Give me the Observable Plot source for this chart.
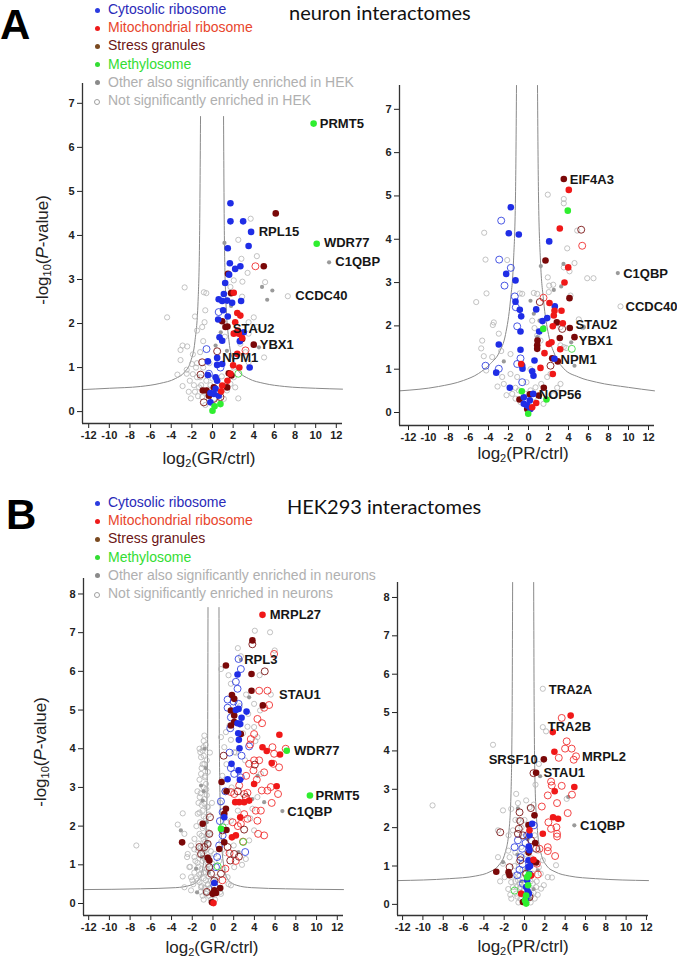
<!DOCTYPE html>
<html><head><meta charset="utf-8">
<script src="https://cdn.jsdelivr.net/npm/d3@7"></script>
<script src="https://cdn.jsdelivr.net/npm/@observablehq/plot@0.6"></script>
<style>
body{margin:0;background:#fff;}
#root{position:relative;width:677px;height:959px;overflow:hidden;font-family:"Liberation Sans",Arial,sans-serif;background:#fff;}
.abs{position:absolute;white-space:nowrap;}
.letter{font-weight:bold;font-size:42px;color:#000;line-height:1;}
.title{font-family:Lato,"Open Sans",sans-serif;font-size:20px;color:#111;line-height:1;}
.leg{font-size:14px;line-height:1;}
.bul{position:absolute;width:5px;height:5px;border-radius:50%;}
.axt{font-size:17px;color:#222;line-height:1;}
.axt sub{font-size:11px;vertical-align:-3px;line-height:0;}
</style></head><body><div id="root"></div>
<script>
// ---------- shared ----------
const xTicks = [-12,-10,-8,-6,-4,-2,0,2,4,6,8,10,12];
const yTicksA = [0,1,2,3,4,5,6,7];
const yTicksB = [0,1,2,3,4,5,6,7,8];
const legendCats = ["Cytosolic ribosome","Mitochondrial ribosome","Stress granules","Methylosome"];
const legendRestA = ["Other also significantly enriched in HEK","Not significantly enriched in HEK"];
const legendRestB = ["Other also significantly enriched in neurons","Not significantly enriched in neurons"];
const panelLetters = ["A","B"];
const panelTitles = ["neuron interactomes","HEK293 interactomes"];

// ---------- A: neuron, GR ----------
const aGR_cyto = [[1.74,4.73],[1.74,4.32],[2.97,4.32],[3.74,4.08],[3.5,3.76],[1.48,3.71],[1.68,3.37],[2.7,3.3],[2.2,3.24],[1.61,3.11],[1.23,2.92],[1.1,2.67],[0.6,2.55],[0.94,2.51],[1.42,2.52],[1.9,2.47],[2.77,2.51],[1.03,2.3],[1.48,2.16],[0.55,2.09],[0.68,1.69],[0.94,1.61],[2.65,1.6],[3.03,1.8],[-0.45,1.14],[0.45,1.22],[0.45,1.06],[0.94,1.08],[3.6,1.0],[-0.45,0.83],[0.3,0.78],[0.45,0.7],[-0.2,0.42],[0.3,0.52],[0.13,0.4],[0.6,0.36],[-0.2,0.21]];
const aGR_cytoOpen = [[0.6,2.26],[-0.58,1.42],[0.77,1.0],[-0.35,0.86]];
const aGR_mito = [[2.4,2.24],[2.7,2.18],[2.2,2.03],[2.45,1.84],[2.06,1.77],[2.55,1.77],[2.87,1.67],[2.4,1.31],[2.0,1.05],[2.6,1.0],[1.74,0.86],[0.94,0.59],[0.84,0.46],[2.06,2.7],[1.45,0.7]];
const aGR_mitoOpen = [[4.16,3.3],[3.2,1.39]];
const aGR_sg = [[6.13,4.5],[4.97,3.3],[1.5,3.13],[1.8,2.69],[0.94,2.05],[1.26,1.92],[1.45,1.93],[4.0,1.52],[2.87,1.65],[1.58,0.87],[1.84,0.82],[1.42,0.55],[-0.94,0.48],[-0.58,0.48],[-0.35,0.36],[0.13,0.55]];
const aGR_sgOpen = [[-1.0,1.12],[-1.16,0.84],[0.45,1.37],[-0.84,0.21],[0.13,0.29],[0.77,0.33]];
const aGR_meth = [[9.8,6.54],[10.1,3.81],[0,0.02],[0.77,0.17],[0.2,0.12]];
const aGR_methOpen = [[2.5,0.86]];
const aGR_other = [[11.3,3.39],[4.8,2.83],[5.8,2.75],[5.3,2.54],[4.5,1.46],[1.16,3.83],[0.8,1.8],[1.4,1.38],[1.8,2.4],[0.3,1.5],[1.1,0.6]];
const aGR_ns = [[7.3,2.62],[3.7,4.38],[2.5,3.9],[4.3,3.53],[3.4,3.15],[5.1,2.94],[2.9,2.95],[2.8,3.47],[-2.7,2.82],[-4.4,2.14],[-1.7,2.16],[-0.84,2.71],[-0.6,2.69],[-0.7,2.3],[-0.77,2.03],[-1.0,1.92],[-1.5,1.84],[-2.9,1.5],[-3.1,1.4],[-2.45,1.48],[-3.1,1.17],[-2.9,0.58],[-3.4,0.84],[-2.5,0.86],[-2.0,1.08],[-1.6,1.0],[-1.5,0.78],[-1.2,0.78],[-1.8,0.6],[-1.3,0.55],[-0.84,0.48],[-0.5,0.4],[-1.0,0.33],[-0.35,0.29],[1.4,2.52],[1.74,2.83],[2.06,2.98],[2.87,2.61],[4.0,2.14],[4.3,1.92],[5.0,1.23],[3.5,2.03],[3.5,1.77],[2.7,1.54],[2.06,1.0],[1.74,0.63],[2.2,0.55],[1.4,0.48],[0.6,0.4],[1.1,0.29],[0.45,0.21],[2.06,0.78],[3.2,1.35],[3.5,1.12],[-2.2,0.7],[-1.9,1.3],[-0.9,1.0],[-0.6,0.7],[-1.4,0.35],[-2.3,0.45],[-0.2,0.6],[0.9,0.8],[2.5,0.3],[-0.9,1.6],[1.2,1.7],[-1.2,1.35],[-1.5,1.1],[-2.5,0.95],[-1.7,0.45],[-2.1,0.3],[-0.7,0.15],[-1.1,0.6],[-0.3,1.1],[-0.4,0.5],[0.0,0.75],[-1.9,0.85]];
const aGR_curveL = [[-12.6,0.5],[-10,0.53],[-7,0.57],[-5.1,0.64],[-3.6,0.75],[-2.7,0.9],[-2.1,1.15],[-1.7,1.6],[-1.4,2.5],[-1.25,4],[-1.16,6.7]];
const aGR_curveR = [[1.07,6.7],[1.15,4],[1.3,2.5],[1.6,1.6],[2.0,1.15],[2.6,0.9],[3.5,0.75],[5,0.64],[7,0.57],[10,0.53],[12.6,0.51]];
const aGR_labels = [["PRMT5",10.4,6.54,"start"],["RPL15",4.48,4.09,"start"],["WDR77",10.8,3.83,"start"],["C1QBP",11.9,3.39,"start"],["CCDC40",8.03,2.62,"start"],["STAU2",1.97,1.89,"start"],["YBX1",4.58,1.52,"start"],["NPM1",0.94,1.21,"start"]];

// ---------- A: neuron, PR ----------
const aPR_cyto = [[-1.77,4.74],[-1.97,4.14],[-0.97,4.11],[2.07,3.95],[-2.23,3.2],[-1.3,3.05],[-1.3,2.56],[-0.87,2.37],[-0.73,2.22],[0.77,2.38],[1.4,2.11],[1.87,2.18],[2.63,2.45],[-0.8,1.87],[1.07,1.87],[-2.97,1.57],[-0.8,1.45],[-0.63,1.08],[-0.6,1.01],[-3.23,0.92],[0.6,1.2],[0.37,0.95],[0.5,0.85],[-1.87,0.57],[0.47,0.43],[-0.47,0.35],[0.13,0.28],[-0.13,0.16],[-0.47,0.2],[0.2,0.08],[2.6,1.24]];
const aPR_cytoOpen = [[-2.73,4.43],[-2.93,3.53],[-1.77,3.34],[-2.4,2.93],[-1.37,2.68],[-1.27,2.43],[-1.13,1.99],[-4.3,1.08],[-2.97,1.01],[-0.8,1.25],[-0.63,0.7],[-1.13,1.12]];
const aPR_mito = [[4.03,5.14],[3.13,4.25],[3.97,3.35],[3.6,3.0],[2.1,2.53],[2.6,2.35],[3.3,2.35],[2.53,2.24],[3.43,2.06],[2.43,1.99],[2.3,1.62],[2.03,1.58],[3.17,1.46],[1.6,1.37],[1.2,1.03],[2.43,0.89],[-0.73,1.12],[0.77,0.22],[0.37,0.12]];
const aPR_mitoOpen = [[5.37,3.85],[1.5,2.65]];
const aPR_sg = [[3.53,5.39],[1.7,3.51],[4.1,2.64],[2.83,2.08],[4.13,1.95],[3.13,1.72],[4.6,1.74],[0.9,1.66],[0.87,1.55],[0.87,1.47],[2.93,1.18],[2.37,1.25],[1.53,0.57],[1.03,0.39],[0.13,0.42],[-0.9,0.3],[-0.13,0.08]];
const aPR_sgOpen = [[5.27,4.22],[1.13,2.55],[3.37,1.93],[2.2,1.08]];
const aPR_meth = [[3.93,4.66],[-0.03,-0.03],[1.47,1.93],[-0.67,0.49],[1.8,0.3]];
const aPR_methOpen = [[4.33,1.47]];
const aPR_other = [[8.93,3.22],[3.5,3.43],[1.23,3.38],[3.27,2.91],[2.53,2.83],[0.53,2.28],[1.1,2.12],[4.27,1.62],[4.6,1.08],[-2.47,1.18],[0.2,2.58],[0.87,1.74],[1.53,1.97],[5.53,1.97]];
const aPR_ns = [[9.2,2.45],[1.93,5.03],[3.53,4.93],[3.53,4.83],[4.87,4.2],[3.87,3.79],[-4.43,4.15],[-4.3,3.53],[-2.13,3.52],[3.53,3.35],[4.1,3.26],[4.6,3.45],[5.87,3.1],[1.93,3.12],[-5.23,2.55],[-4.2,2.75],[0.53,2.76],[0.87,2.74],[2.07,2.93],[2.47,2.95],[2.03,2.78],[4.2,2.7],[-3.47,2.08],[-3.57,2.02],[-2.97,1.82],[-4.63,1.66],[-4.73,1.48],[-4.47,1.3],[-3.63,1.28],[-2.73,1.42],[-4.23,0.97],[-2.63,0.82],[-2.47,0.66],[-1.8,1.35],[-1.8,0.89],[-1.13,0.82],[-1.3,0.57],[-1.63,0.43],[-0.97,0.51],[-0.63,2.74],[-0.87,2.75],[0.37,2.12],[0.6,1.95],[0.87,1.78],[1.2,1.66],[3.2,1.55],[3.53,1.51],[3.77,1.49],[5.03,2.15],[5.43,1.97],[3.2,1.97],[2.2,0.89],[3.2,0.66],[2.87,0.57],[1.87,0.82],[1.27,0.66],[0.7,0.58],[0.2,0.51],[0.53,0.35],[-0.3,0.43],[-0.8,0.24],[-1.3,0.32],[6.5,3.1],[-3.1,0.6],[-2.2,0.4],[1.5,0.2],[2.5,0.4],[-0.2,0.7],[0.2,1.0]];
const aPR_curveL = [[-12.9,0.5],[-9,0.6],[-6.5,0.74],[-5,0.9],[-3.8,1.13],[-2.9,1.4],[-2.3,1.8],[-1.8,2.6],[-1.5,3.5],[-1.3,5],[-1.2,7.55]];
const aPR_curveR = [[0.9,7.55],[1.0,5],[1.2,3.5],[1.5,2.6],[2.0,1.8],[2.6,1.35],[3.5,1.02],[5,0.82],[6.8,0.7],[10,0.58],[12.6,0.5]];
const aPR_labels = [["EIF4A3",4.13,5.38,"start"],["C1QBP",9.47,3.2,"start"],["CCDC40",9.7,2.45,"start"],["STAU2",4.7,2.02,"start"],["YBX1",5.03,1.66,"start"],["NPM1",3.2,1.22,"start"],["NOP56",1.03,0.41,"start"]];

// ---------- B: HEK293, GR ----------
const bGR_cyto = [[2.37,5.92],[2.21,5.0],[2.47,5.03],[3.24,4.96],[2.76,4.8],[2.37,4.66],[2.63,4.64],[2.44,4.4],[2.5,4.23],[2.56,4.01],[1.79,3.61],[2.47,3.44],[2.6,3.2],[1.41,3.21],[1.09,2.23],[0.13,0.53]];
const bGR_cytoOpen = [[2.47,6.32],[2.69,6.06],[2.21,5.73],[2.37,5.55],[1.41,5.27],[1.99,5.22],[1.41,5.06],[2.47,5.16],[1.73,4.81],[1.67,4.53],[3.49,4.06],[2.76,3.82],[1.73,3.5],[2.05,3.35],[2.69,3.26],[0.77,2.64],[0.93,2.36],[0.67,2.13],[0.93,1.76],[3.11,1.33],[0.29,0.94],[0.13,0.46],[1.2,2.9],[1.6,3.9],[0.6,1.5],[0.4,1.2]];
const bGR_mito = [[4.78,7.46],[6.41,4.36],[5.67,3.63],[4.78,4.04],[5.19,3.94],[6.47,3.85],[6.15,3.03],[3.97,3.09],[3.49,2.66],[3.01,2.62],[2.53,2.62],[2.15,2.62],[2.63,2.23],[2.21,1.76],[1.83,1.71],[0.05,0.01]];
const bGR_mitoOpen = [[5.9,6.45],[4.94,5.06],[5.42,5.13],[4.46,5.5],[5.26,5.5],[4.29,4.77],[4.74,4.66],[3.97,4.38],[3.65,4.25],[3.59,4.11],[5.74,4.04],[5.9,3.87],[7.02,4.0],[4.46,3.7],[5.83,3.61],[6.38,3.52],[4.94,3.39],[3.91,3.44],[5.58,3.01],[4.23,3.2],[4.71,2.92],[5.26,2.92],[6.28,2.83],[5.67,2.6],[4.62,2.4],[4.13,2.4],[4.29,2.14],[4.36,1.8],[4.94,1.76],[3.01,2.31],[2.69,2.06],[3.33,2.19],[1.73,2.88],[2.05,2.83],[3.01,2.83],[3.33,2.86],[3.97,3.7],[3.49,3.61],[2.53,3.05],[3.2,3.3],[2.4,2.0],[1.9,2.1],[2.9,1.6],[1.6,1.3],[2.2,1.1],[1.2,0.9],[0.9,0.6]];
const bGR_sg = [[3.81,6.8],[1.25,6.15],[3.72,5.93],[3.72,5.5],[4.81,5.12],[1.83,5.39],[2.05,5.29],[1.73,4.99],[2.05,4.86],[1.73,4.6],[2.05,4.69],[2.69,4.38],[0.83,3.14],[1.31,2.9],[1.25,2.45],[1.09,2.32],[1.09,1.58],[0.61,1.41],[-2.98,1.58],[-0.99,2.06],[-0.51,1.18],[-0.35,1.11],[0.13,0.34],[-0.03,0.25],[0.29,0.27],[-0.1,0.03],[1.3,1.9],[0.7,0.4]];
const bGR_sgOpen = [[1.03,3.82],[4.04,3.59],[3.17,2.75],[3.01,1.91],[2.5,1.21],[1.67,1.11],[-0.29,2.23],[-0.35,1.8],[-0.83,1.46],[-1.31,1.46],[-0.35,0.94],[-1.15,1.28],[0.13,0.59],[-0.19,0.77],[0.77,0.77],[-0.51,1.54],[0.93,1.89],[1.41,1.46],[2.05,1.28],[3.8,6.7],[5.0,6.0],[2.4,2.9],[-0.6,0.3]];
const bGR_meth = [[9.36,2.79],[7.12,3.95],[0.77,1.93]];
const bGR_methOpen = [[0.93,1.97],[2.92,1.59],[0.45,0.96]];
const bGR_other = [[6.7,2.39],[3.49,5.33],[4.94,2.62],[-3.1,1.89],[-1.63,0.9],[-1.54,0.29],[-1.15,3.05],[-0.99,2.66],[2.47,1.33],[2.7,6.3],[3.8,2.7],[-0.8,4.0],[-0.6,1.6],[4.3,3.3],[2.6,4.6],[-0.9,2.9],[-0.6,2.1],[-1.1,1.2],[-0.4,0.8],[-0.7,3.5]];
const bGR_ns = [[5.58,5.4],[5.51,7.01],[5.96,6.54],[4.04,7.05],[2.69,6.39],[0.77,6.06],[-0.83,4.34],[-0.93,4.04],[-1.22,3.91],[-0.9,3.82],[-0.83,3.61],[-1.15,3.35],[-0.77,3.26],[-1.28,2.75],[-0.83,2.58],[-0.51,2.49],[-2.92,2.33],[-3.4,2.04],[-2.76,1.8],[-7.4,1.5],[-2.12,1.5],[-1.47,1.37],[-1.79,1.2],[-2.28,0.94],[-2.92,0.7],[-2.12,0.68],[-1.47,0.59],[-1.15,0.42],[-0.67,0.25],[-0.51,0.47],[0.38,0.68],[1.73,2.14],[2.05,3.91],[1.73,4.23],[3.33,4.57],[3.97,4.56],[4.29,4.3],[4.55,4.99],[3.97,5.16],[4.62,3.35],[4.29,2.75],[3.81,2.45],[3.97,1.89],[3.49,1.63],[3.17,1.15],[2.05,0.94],[1.41,0.68],[1.73,0.47],[0.77,0.25],[1.09,4.04],[1.25,4.43],[0.77,4.3],[1.73,5.68],[0.13,1.28],[-0.03,1.02],[-1.15,0.77],[-2.44,1.28],[-1.47,2.32],[-0.67,3.09],[-1.15,3.78],[-0.35,1.8],[-1.79,1.67],[-2.12,0.34],[-2.76,0.42],[-0.7,4.1],[-1.0,3.95],[-0.6,3.7],[-1.1,3.5],[-0.75,3.3],[-0.65,2.95],[-1.2,2.85],[-0.8,2.7],[-0.55,2.5],[-1.0,2.4],[-0.7,2.2],[-1.25,2.1],[-0.85,2.0],[-0.5,1.85],[-1.1,1.75],[-0.75,1.6],[-1.4,1.55],[-0.6,1.4],[-1.0,1.3],[-0.8,1.15],[-1.5,1.05],[-0.5,1.0],[-1.1,0.9],[-0.7,0.8],[-1.8,0.8],[-0.9,0.65],[-1.3,0.55],[-0.5,0.5],[-0.8,0.4],[-1.0,0.2],[-0.4,0.2],[-1.9,0.5],[-2.2,0.95],[-2.5,1.2],[0.9,3.3],[1.1,2.9],[0.7,2.6],[1.3,2.1],[0.8,1.6],[1.2,1.3],[0.6,1.1],[1.0,0.9],[0.4,0.6],[0.7,0.3],[1.5,0.5],[2.0,1.5],[1.8,3.0],[2.4,2.4],[2.2,3.9],[2.9,4.4],[3.1,3.7],[3.2,5.4],[1.5,5.9],[2.4,6.6],[3.4,4.9],[4.1,4.2],[4.5,5.9],[1.6,4.6],[1.3,3.6],[2.8,1.0],[3.6,2.2],[2.6,5.1],[0.2,0.1],[-0.2,0.6],[0.3,0.3],[-1.3,4.0],[-0.9,4.2],[-1.0,3.6],[-0.5,3.4],[-1.3,3.2],[-0.9,3.0],[-0.6,2.8],[-1.4,2.6],[-1.1,2.55],[-0.4,2.3],[-1.3,2.35],[-0.9,2.25],[-1.6,2.0],[-1.0,1.95],[-0.6,1.75],[-1.3,1.8],[-0.9,1.65],[-1.2,1.45],[-0.5,1.55],[-0.8,1.35],[-1.3,1.25],[-0.4,1.2],[-1.0,1.1],[-1.4,0.95],[-0.6,0.9],[-0.9,0.8],[-1.3,0.75],[-0.4,0.7],[-1.6,0.65],[-0.7,0.6],[-1.1,0.45],[-0.3,0.4],[-0.6,0.3],[-0.9,0.1],[-0.2,0.1],[-1.2,0.3],[-1.7,1.1],[-2.0,0.6],[-1.8,1.4],[-0.3,0.95],[-0.2,1.35],[-0.1,2.6],[-0.3,3.9],[-1.5,2.9]];
const bGR_curveL = [[-12.5,0.36],[-7,0.38],[-3.6,0.41],[-2.2,0.47],[-1.4,0.6],[-1.0,0.9],[-0.75,1.5],[-0.6,2.5],[-0.52,4],[-0.48,7.65]];
const bGR_curveR = [[0.58,7.65],[0.62,4],[0.7,2.5],[0.85,1.5],[1.1,0.9],[1.5,0.6],[2.3,0.47],[3.7,0.41],[7,0.38],[12.6,0.36]];
const bGR_labels = [["MRPL27",5.48,7.46,"start"],["RPL3",3.01,6.3,"start"],["STAU1",6.38,5.4,"start"],["WDR77",7.82,3.95,"start"],["PRMT5",9.9,2.79,"start"],["C1QBP",7.18,2.36,"start"]];

// ---------- B: HEK293, PR ----------
const bPR_cyto = [[0.75,2.1],[0.49,1.8],[0.42,1.51],[0.49,1.41],[0.39,1.15],[0.39,0.97],[0.49,0.8],[0.26,0.63],[0.16,0.45],[0.42,0.28],[0.16,0.15],[0.55,1.0],[0.3,0.35]];
const bPR_cytoOpen = [[0.92,2.06],[0.26,1.8],[-0.65,1.67],[-0.98,1.49],[-0.23,1.45],[-0.39,1.23],[-0.49,0.9],[-0.72,0.76],[-0.16,0.54],[-0.2,1.05],[0.1,1.6]];
const bPR_mito = [[4.54,4.92],[2.78,4.49],[2.94,3.98],[2.97,2.95],[4.9,3.06],[2.81,2.27],[3.3,2.23],[1.8,1.84],[0.49,1.93],[0.88,1.16],[0.65,0.75],[-0.33,0.28]];
const bPR_mitoOpen = [[3.66,4.86],[4.15,4.25],[3.99,4.06],[4.64,4.06],[5.07,3.86],[4.84,3.77],[3.37,3.82],[2.61,3.2],[2.68,3.1],[3.66,3.09],[2.29,2.84],[3.2,2.64],[4.67,2.86],[4.25,2.38],[1.7,2.55],[2.35,2.14],[2.61,1.97],[3.14,2.01],[3.2,1.84],[3.2,1.77],[2.29,1.49],[2.29,1.39],[3.01,1.26],[1.47,1.45],[1.21,1.06],[1.31,0.78]];
const bPR_sg = [[1.9,3.78],[1.14,3.43],[0.98,2.32],[0.39,2.07],[1.05,1.6],[0.88,1.13],[1.14,1.09],[-2.78,0.85],[-1.57,0.84],[-1.47,0.76],[-0.16,0.06],[0.4,1.35]];
const bPR_sgOpen = [[0.88,3.42],[0.62,2.51],[-0.49,2.4],[-0.42,2.17],[-0.56,1.97],[-0.65,1.84],[-0.16,1.8],[-2.39,1.88],[-1.47,0.97],[0.65,1.67],[1.14,1.45],[-0.42,1.15],[0.16,0.8],[0.49,0.19]];
const bPR_meth = [[0.16,0.02],[0.26,0.71],[0.42,0.78],[0.16,0.23],[0.35,0.5],[0.05,0.1]];
const bPR_methOpen = [[-0.98,0.36]];
const bPR_other = [[4.9,2.06],[1.54,3.34],[-0.65,2.5],[1.31,0.89],[-2.12,1.1],[0.3,1.7],[-0.3,0.6],[0.9,0.4],[4.3,2.8],[-0.4,0.3],[0.2,0.9],[0.6,0.15],[-0.7,1.3]];
const bPR_ns = [[1.8,5.62],[1.8,4.62],[-3.1,4.16],[-9.05,2.58],[-0.82,2.88],[-0.65,2.64],[-1.31,2.49],[-2.12,2.45],[1.08,3.12],[1.41,3.66],[2.12,4.51],[4.15,2.75],[-1.14,1.93],[-1.57,1.8],[-2.61,1.93],[-2.61,1.23],[-2.12,1.06],[-1.47,1.23],[-1.96,0.71],[-1.31,0.58],[-1.14,0.45],[-0.65,0.63],[-0.42,0.45],[1.14,0.45],[1.63,0.41],[2.29,0.71],[3.1,1.02],[1.8,1.15],[1.41,0.97],[0.82,0.54],[-0.82,0.28],[0.49,2.53],[0.16,2.71],[-0.3,1.5],[0.2,1.3],[-0.6,1.1],[0.7,1.2],[-0.2,0.9],[0.6,0.6],[-0.5,0.4],[0.3,0.1],[-0.1,0.35],[0.9,0.3],[-0.9,0.6],[1.0,0.15],[-0.4,0.15],[0.1,0.55],[-1.6,0.4],[1.9,0.5],[-0.3,2.0],[0.0,2.2],[-1.6,1.4],[-1.0,1.0],[-0.7,0.2],[0.6,0.05],[-1.3,0.15],[1.3,0.25],[-2.4,0.6],[2.7,0.7],[1.0,1.8],[1.3,1.4],[-0.9,2.2],[-0.5,0.75],[0.0,0.8],[0.5,0.4],[-0.8,0.45],[-0.2,0.25],[0.2,0.7],[-0.6,0.05],[0.8,0.8],[-1.1,0.75],[1.2,0.6],[-0.3,1.2],[0.4,1.0],[-0.9,1.35],[0.1,0.2],[-0.45,0.55],[0.65,0.25],[-1.4,0.25],[1.6,0.8],[-0.1,1.75],[0.9,2.6],[-0.6,2.2]];
const bPR_curveL = [[-12.5,0.62],[-7.4,0.67],[-4.8,0.74],[-3.4,0.85],[-2.6,1.0],[-1.9,1.35],[-1.5,2],[-1.32,3],[-1.22,5],[-1.17,8.39]];
const bPR_curveR = [[0.9,8.39],[0.95,5],[1.05,3],[1.25,2],[1.6,1.35],[2.2,1.0],[3,0.85],[4.4,0.74],[7,0.67],[12.2,0.62]];
const bPR_labels = [["TRA2A",2.39,5.6,"start"],["TRA2B",2.29,4.62,"start"],["MRPL2",5.65,3.84,"start"],["SRSF10",1.31,3.78,"end"],["STAU1",1.86,3.42,"start"],["C1QBP",5.46,2.06,"start"]];

// ---------- styling ----------
const styles = {
  N: {fill:"none", stroke:"#b4b4b4", r:2.6, sw:0.8},
  O: {fill:"#9a9a9a", stroke:"none", r:2.1, sw:0},
  c: {fill:"none", stroke:"#3444e0", r:3.5, sw:0.9},
  m: {fill:"none", stroke:"#f03030", r:3.5, sw:0.9},
  s: {fill:"none", stroke:"#7a1515", r:3.5, sw:0.9},
  g: {fill:"none", stroke:"#44dd44", r:3.5, sw:0.9},
  S: {fill:"#7a0808", stroke:"none", r:3.3, sw:0},
  C: {fill:"#1f2de6", stroke:"none", r:3.3, sw:0},
  M: {fill:"#f01818", stroke:"none", r:3.3, sw:0},
  G: {fill:"#2fee2f", stroke:"none", r:3.3, sw:0}
};

const root = document.getElementById("root");
function addDiv(cls, html, css) {
  const d = document.createElement("div");
  d.className = "abs " + cls;
  d.innerHTML = html;
  Object.assign(d.style, css);
  root.appendChild(d);
  return d;
}

function panel(cfg) {
  const marks = [];
  for (const c of [cfg.curveL, cfg.curveR]) {
    marks.push(Plot.line(c, {x: d => d[0], y: d => d[1], stroke: "#8a8a8a", strokeWidth: 1, curve: "monotone-x"}));
  }
  const layers = [[cfg.ns,"N"],[cfg.other,"O"],[cfg.cytoOpen,"c"],[cfg.mitoOpen,"m"],[cfg.sgOpen,"s"],[cfg.methOpen,"g"],[cfg.sg,"S"],[cfg.cyto,"C"],[cfg.mito,"M"],[cfg.meth,"G"]];
  for (const [arr, code] of layers) {
    const st = styles[code];
    marks.push(Plot.dot(arr, {x: d => d[0], y: d => d[1], r: st.r, fill: st.fill, stroke: st.stroke, strokeWidth: st.sw}));
  }
  for (const anchor of ["start","end"]) {
    marks.push(Plot.text(cfg.labels.filter(d => d[3] === anchor), {
      x: d => d[1], y: d => d[2], text: d => d[0], textAnchor: anchor,
      fontSize: 13, fontWeight: "bold", fill: "#161616", fontFamily: "Liberation Sans, Arial, sans-serif"
    }));
  }
  marks.push(Plot.ruleX([cfg.xDomain[0]], {stroke: "#333", strokeWidth: 1.3}));
  marks.push(Plot.ruleY([cfg.yDomain[0]], {stroke: "#333", strokeWidth: 1.3}));
  const svg = Plot.plot({
    width: cfg.w, height: cfg.h,
    marginLeft: cfg.mL, marginRight: cfg.mR, marginTop: cfg.mT, marginBottom: cfg.mB,
    x: {domain: cfg.xDomain, ticks: xTicks, tickSize: 5, tickPadding: 3, tickFormat: d => String(d), label: null},
    y: {domain: cfg.yDomain, ticks: cfg.yTicks, tickSize: 5, tickPadding: 3, tickFormat: d => String(d), label: null},
    style: {fontFamily: "Liberation Sans, Arial, sans-serif", fontSize: "11px", fontWeight: "bold", color: "#222", background: "transparent", overflow: "visible"},
    marks
  });
  svg.style.position = "absolute";
  svg.style.left = cfg.left + "px";
  svg.style.top = cfg.top + "px";
  svg.style.overflow = "visible";
  svg.style.background = "transparent";
  root.appendChild(svg);
}

// panels
panel({left:0, top:70, w:345, h:380, mL:82, mR:3, mT:13, mB:27, xDomain:[-12.6,12.6], yDomain:[-0.27,7.45], yTicks:yTicksA,
  cyto:aGR_cyto, cytoOpen:aGR_cytoOpen, mito:aGR_mito, mitoOpen:aGR_mitoOpen, sg:aGR_sg, sgOpen:aGR_sgOpen, meth:aGR_meth, methOpen:aGR_methOpen, other:aGR_other, ns:aGR_ns, curveL:aGR_curveL, curveR:aGR_curveR, labels:aGR_labels});
panel({left:320, top:70, w:357, h:375, mL:79, mR:23, mT:15, mB:20, xDomain:[-12.9,12.6], yDomain:[-0.3,7.55], yTicks:yTicksA,
  cyto:aPR_cyto, cytoOpen:aPR_cytoOpen, mito:aPR_mito, mitoOpen:aPR_mitoOpen, sg:aPR_sg, sgOpen:aPR_sgOpen, meth:aPR_meth, methOpen:aPR_methOpen, other:aPR_other, ns:aPR_ns, curveL:aPR_curveL, curveR:aPR_curveR, labels:aPR_labels});
panel({left:0, top:560, w:345, h:375, mL:83, mR:2, mT:18, mB:20, xDomain:[-12.5,12.6], yDomain:[-0.31,8.4], yTicks:yTicksB,
  cyto:bGR_cyto, cytoOpen:bGR_cytoOpen, mito:bGR_mito, mitoOpen:bGR_mitoOpen, sg:bGR_sg, sgOpen:bGR_sgOpen, meth:bGR_meth, methOpen:bGR_methOpen, other:bGR_other, ns:bGR_ns, curveL:bGR_curveL, curveR:bGR_curveR, labels:bGR_labels});
panel({left:320, top:560, w:357, h:375, mL:77, mR:29, mT:22, mB:20, xDomain:[-12.5,12.2], yDomain:[-0.29,8.39], yTicks:yTicksB,
  cyto:bPR_cyto, cytoOpen:bPR_cytoOpen, mito:bPR_mito, mitoOpen:bPR_mitoOpen, sg:bPR_sg, sgOpen:bPR_sgOpen, meth:bPR_meth, methOpen:bPR_methOpen, other:bPR_other, ns:bPR_ns, curveL:bPR_curveL, curveR:bPR_curveR, labels:bPR_labels});

// letters and titles
addDiv("letter", panelLetters[0], {left:"0px", top:"4px"});
addDiv("letter", panelLetters[1], {left:"6px", top:"494px"});
addDiv("title", panelTitles[0], {left:"289px", top:"2px"});
addDiv("title", panelTitles[1], {left:"287px", top:"496px"});

// legends
const legTextColors = ["#2a2ab8","#e8452c","#6b1515","#33dd33","#b0b0b0","#b0b0b0"];
const legBulletColors = ["#2b3be0","#ee1a1a","#7a4a20","#33dd33","#8a8a8a","none"];
function legend(top0, rest) {
  const items = legendCats.concat(rest);
  items.forEach((t, i) => {
    const cy = top0 + i * 18.2;
    const b = document.createElement("div");
    b.className = "bul";
    Object.assign(b.style, {left: "94.5px", top: (cy - 2.5) + "px", background: legBulletColors[i]});
    if (legBulletColors[i] === "none") { b.style.border = "1px solid #a0a0a0"; b.style.width = "4px"; b.style.height = "4px"; b.style.left="94px"; }
    root.appendChild(b);
    addDiv("leg", t, {left: "108px", top: (cy - 8) + "px", color: legTextColors[i]});
  });
}
legend(10, legendRestA);
legend(503, legendRestB);

// axis titles
addDiv("axt", "log<sub>2</sub>(GR/ctrl)", {left:"209px", top:"458px", transform:"translate(-50%,-50%)"});
addDiv("axt", "log<sub>2</sub>(PR/ctrl)", {left:"523px", top:"453px", transform:"translate(-50%,-50%)"});
addDiv("axt", "log<sub>2</sub>(GR/ctrl)", {left:"212px", top:"947px", transform:"translate(-50%,-50%)"});
addDiv("axt", "log<sub>2</sub>(PR/ctrl)", {left:"523px", top:"946px", transform:"translate(-50%,-50%)"});
addDiv("axt", "-log<sub>10</sub>(<i>P</i>-value)", {left:"42px", top:"250px", transform:"translate(-50%,-50%) rotate(-90deg)"});
addDiv("axt", "-log<sub>10</sub>(<i>P</i>-value)", {left:"40px", top:"752px", transform:"translate(-50%,-50%) rotate(-90deg)"});
</script></body></html>
